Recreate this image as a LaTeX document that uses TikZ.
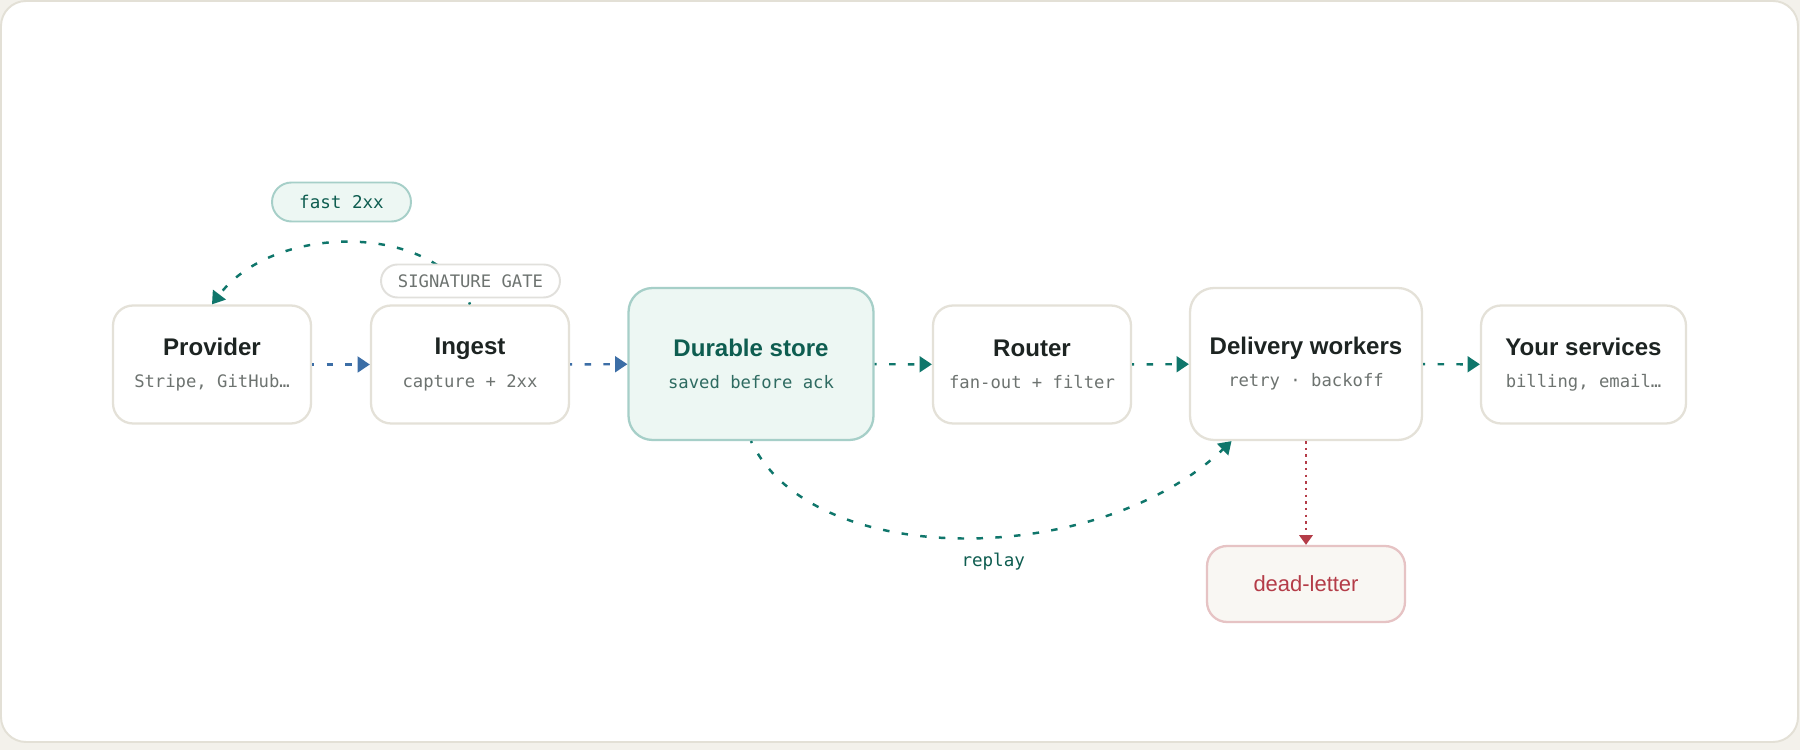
\documentclass[tikz,border=0pt]{standalone}
\usepackage{fontspec}
\setmainfont{Liberation Sans}
\setmonofont{DejaVu Sans Mono}
\usetikzlibrary{arrows.meta}
\definecolor{paper}{HTML}{F3F1EB}
\definecolor{frameline}{HTML}{E3E0D6}
\definecolor{boxline}{HTML}{E4E1D8}
\definecolor{ink}{HTML}{1D2422}
\definecolor{muted}{HTML}{6D7370}
\definecolor{mint}{HTML}{EDF7F3}
\definecolor{mintline}{HTML}{A6CFC8}
\definecolor{deepteal}{HTML}{0E5D50}
\definecolor{storesub}{HTML}{2E6B61}
\definecolor{flowteal}{HTML}{0F766B}
\definecolor{flowblue}{HTML}{3C6EA6}
\definecolor{deadred}{HTML}{B43C48}
\definecolor{deadline}{HTML}{E6C3C4}
\definecolor{deadfill}{HTML}{F9F7F3}
\definecolor{gateline}{HTML}{E1E0DC}
\newcommand{\boxtitle}[1]{{\fontsize{13.7}{18.3}\selectfont\bfseries #1}}
\newcommand{\boxsub}[2][muted]{{\ttfamily\color{#1}#2}}
\tikzset{
  stage/.style={draw=boxline, line width=1.3pt, fill=white, rounded corners=0.4cm,
    minimum width=3.96cm, minimum height=2.36cm, inner sep=0pt, align=center,
    text=ink, font=\fontsize{9.8}{18.3}\selectfont},
  bigstage/.style={stage, minimum height=3.04cm, rounded corners=0.48cm},
  deadbox/.style={draw=deadline, fill=deadfill, line width=1.3pt, rounded corners=0.4cm,
    minimum width=3.96cm, minimum height=1.52cm, inner sep=0pt, text=deadred,
    font=\fontsize{12.5}{15}\selectfont},
  gate/.style={draw=gateline, line width=1.1pt, fill=white, rounded corners=0.33cm,
    minimum width=3.58cm, minimum height=0.66cm, inner sep=0pt, text=muted,
    font=\fontsize{9.8}{12}\selectfont\ttfamily},
  fastpill/.style={draw=mintline, fill=mint, line width=1.1pt, rounded corners=0.39cm,
    minimum width=2.78cm, minimum height=0.78cm, inner sep=0pt, text=deepteal,
    font=\fontsize{10}{12}\selectfont\ttfamily},
  replaylabel/.style={text=deepteal, inner sep=0pt, font=\fontsize{10}{12}\selectfont\ttfamily},
  flow/.style={flowteal, line width=1.4pt, dash pattern=on 3.7pt off 7pt, dash phase=2.5pt,
    -{Triangle[length=7pt,width=9pt]}},
  deadflow/.style={deadred, line width=1.4pt, dash pattern=on 1.4pt off 2.4pt,
    -{Triangle[length=5.5pt,width=7.5pt]}}
}
\begin{document}
\begin{tikzpicture}[x=0.02cm, y=0.02cm]
    \useasboundingbox (0,0) rectangle (1800,750);
    \fill[paper] (0,0) rectangle (1800,750);
    \draw[frameline, line width=1.1pt, fill=white, rounded corners=0.5cm] (1,8) rectangle (1798,749);
    \node[stage] (provider) at (212,385.5) {\boxtitle{Provider}\\\boxsub{Stripe, GitHub…}};
    \node[stage] (ingest) at (470,385.5) {\boxtitle{Ingest}\\\boxsub{capture + 2xx}};
    \node[bigstage, fill=mint, draw=mintline, text=deepteal, minimum width=4.9cm] (store) at (751,386) {\boxtitle{Durable store}\\\boxsub[storesub]{saved before ack}};
    \node[stage] (router) at (1032,385.5) {\boxtitle{Router}\\\boxsub{fan-out + filter}};
    \node[bigstage, minimum width=4.64cm] (workers) at (1306,386) {\boxtitle{Delivery workers}\\\boxsub{retry · backoff}};
    \node[stage, minimum width=4.1cm] (services) at (1583.5,385.5) {\boxtitle{Your services}\\\boxsub{billing, email…}};
    \node[deadbox] (dead) at (1306,166) {dead-letter};
    \draw[flow, flowblue] (provider) -- (ingest);
    \draw[flow, flowblue] (ingest) -- (store);
    \draw[flow] (store) -- (router);
    \draw[flow] (router) -- (workers);
    \draw[flow] (workers) -- (services);
    \draw[flow] (store.south) .. controls +(61,-130) and +(-133,-127) .. (workers.-134) node[replaylabel, pos=0.55, below=0.3cm] (replay) {replay};
    \draw[flow] (ingest.north) .. controls +(-30,80) and +(64,84) .. (provider.north);
    \draw[deadflow] (workers) -- (dead);
    \node[gate] (gate) at (470.5,469) {SIGNATURE GATE};
    \node[fastpill] (fast) at (341.5,548) {fast 2xx};
\end{tikzpicture}
\end{document}
